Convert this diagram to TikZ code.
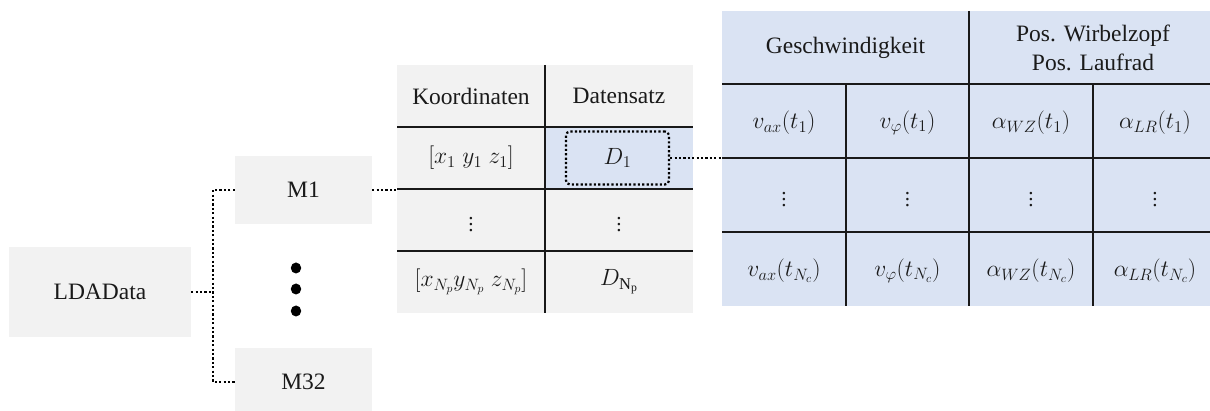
\RequirePackage{fix-cm}
\documentclass[tikz,border=0pt]{standalone}
\usepackage{graphicx}
\usepackage{fontspec}
\setmainfont{Liberation Serif}
\definecolor{boxgrey}{HTML}{F2F2F2}
\definecolor{cellblue}{HTML}{DAE3F3}
\definecolor{txtcol}{HTML}{1A1A1A}
\newcommand{\bigvdots}{\scalebox{1.5}{$\vdots$}}
\begin{document}
\begin{tikzpicture}[x=1pt,y=-1pt,
  txt/.style={font=\fontsize{23.5}{28.5}\selectfont, text=txtcol, inner sep=0pt, align=center},
  vd/.style={font=\fontsize{14}{16}\selectfont, text=txtcol, inner sep=0pt},
  greybox/.style={txt, fill=boxgrey, draw=none},
  gridline/.style={line width=1.6pt, draw=black!90},
  conn/.style={line width=2.2pt, dash pattern=on 2.2pt off 2.2pt, draw=black},
]
\useasboundingbox (0,0) rectangle (1210,411);
\clip (0,0) rectangle (1210,411);

% left boxes
\node[greybox, minimum width=182pt, minimum height=90pt] (lda) at (100,292) {LDAData};
\node[greybox, minimum width=137pt, minimum height=68pt] (m1) at (303.5,190) {M1};
\node[greybox, minimum width=137pt, minimum height=68pt] (m32) at (303.5,382) {M32};
\fill[black] (296,268) ellipse (5.2pt and 5.5pt);
\fill[black] (296,289) ellipse (5.2pt and 5.5pt);
\fill[black] (296,311) ellipse (5.2pt and 5.5pt);

% middle table
\fill[boxgrey] (397,65) rectangle (693,313);
\fill[cellblue] (545,127) rectangle (693,189);
\draw[gridline] (397,127) -- (693,127);
\draw[gridline] (397,189) -- (693,189);
\draw[gridline] (397,251) -- (693,251);
\draw[gridline] (545,65) -- (545,313);
\coordinate (mtl) at (397,190);

\node[txt] (koord) at (471,96) {Koordinaten};
\node[txt] (dsatz) at (619,96) {Datensatz};
\node[txt] (xyz1) at (471,158) {$[x_1\;y_1\;z_1]$};
\node[txt, draw=black, line width=2.2pt, dash pattern=on 2.2pt off 2.2pt, rounded corners=4pt,
      minimum width=103pt, minimum height=53pt] (d1) at (617.5,158) {$D_1$};
\node[vd] (mv1) at (471,220) {\bigvdots};
\node[vd] (mv2) at (619,220) {\bigvdots};
\node[txt] (xyzn) at (471,282) {$[x_{N_p}y_{N_p}\;z_{N_p}]$};
\node[txt] (dn) at (619,282) {$D_{\mathrm{N_p}}$};

% right table
\fill[cellblue] (722,11) rectangle (1217,306);
\draw[gridline] (722,84) -- (1217,84);
\draw[gridline] (722,158) -- (1217,158);
\draw[gridline] (722,232) -- (1217,232);
\draw[gridline] (969,11) -- (969,306);
\draw[gridline] (846,84) -- (846,306);
\draw[gridline] (1093,84) -- (1093,306);
\coordinate (rtl) at (722,158);

\node[txt] (hgesch) at (845.5,47.5) {Geschwindigkeit};
\node[txt] (hpos) at (1093,48) {Pos. Wirbelzopf\\Pos. Laufrad};
\node[txt] (va1) at (784,123) {$v_{ax}(t_1)$};
\node[txt] (vp1) at (907.5,123) {$v_{\varphi}(t_1)$};
\node[txt] (aw1) at (1031,123) {$\alpha_{WZ}(t_1)$};
\node[txt] (al1) at (1155,123) {$\alpha_{LR}(t_1)$};
\node[vd] (rv1) at (784,195) {\bigvdots};
\node[vd] (rv2) at (907.5,195) {\bigvdots};
\node[vd] (rv3) at (1031,195) {\bigvdots};
\node[vd] (rv4) at (1155,195) {\bigvdots};
\node[txt] (van) at (784,271) {$v_{ax}(t_{N_c})$};
\node[txt] (vpn) at (907.5,271) {$v_{\varphi}(t_{N_c})$};
\node[txt] (awn) at (1031,271) {$\alpha_{WZ}(t_{N_c})$};
\node[txt] (aln) at (1155,271) {$\alpha_{LR}(t_{N_c})$};

% connectors
\coordinate (j) at (213,292);
\draw[conn] (lda.east) -- (j);
\draw[conn] (m1.west) -| (j) |- (m32.west);
\draw[conn] (m1.east) -- (mtl);
\draw[conn] (d1.east) -- (rtl);
\end{tikzpicture}
\end{document}
